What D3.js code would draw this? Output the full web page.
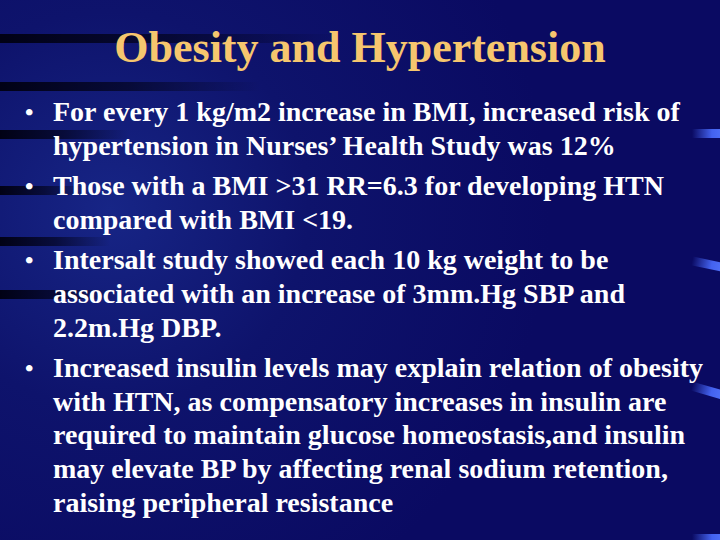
<!DOCTYPE html>
<html><head><meta charset="utf-8">
<script src="https://cdn.jsdelivr.net/npm/d3@7"></script>
<style>html,body{margin:0;padding:0;background:#0a0a62;}svg{display:block;}</style>
</head><body>
<script>
const title = "Obesity and Hypertension";
const bullets = [
  ["For every 1 kg/m2 increase in BMI, increased risk of",
   "hypertension in Nurses\u2019 Health Study was 12%"],
  ["Those with a BMI >31 RR=6.3 for developing HTN",
   "compared with BMI <19."],
  ["Intersalt study showed each 10 kg weight to be",
   "associated with an increase of 3mm.Hg SBP and",
   "2.2m.Hg DBP."],
  ["Increased insulin levels may explain relation of obesity",
   "with HTN, as compensatory increases in insulin are",
   "required to maintain glucose homeostasis,and insulin",
   "may elevate BP by affecting renal sodium retention,",
   "raising peripheral resistance"]
];
const darkStreaks = [38, 86, 134, 190, 241, 294];
const darkStreakLen = [340, 260, 130, 90, 110, 120];
const lightStreaks = [133, 262, 388, 538];
const lightStreakTilt = [0, 12, 16, 0];

const W = 720, H = 540;
const svg = d3.select("body").append("svg").attr("width", W).attr("height", H);
const defs = svg.append("defs");

const rg = defs.append("radialGradient").attr("id", "bg")
  .attr("gradientUnits", "userSpaceOnUse").attr("cx", 110).attr("cy", 210).attr("r", 440);
rg.append("stop").attr("offset", "0").attr("stop-color", "#172586");
rg.append("stop").attr("offset", "0.45").attr("stop-color", "#0e136c");
rg.append("stop").attr("offset", "1").attr("stop-color", "#0a0a62");
svg.append("rect").attr("width", W).attr("height", H).attr("fill", "url(#bg)");

const dg = defs.append("linearGradient").attr("id", "dark").attr("x1", 0).attr("x2", 1);
dg.append("stop").attr("offset", "0").attr("stop-color", "#000010").attr("stop-opacity", 0.95);
dg.append("stop").attr("offset", "0.5").attr("stop-color", "#000010").attr("stop-opacity", 0.6);
dg.append("stop").attr("offset", "1").attr("stop-color", "#000010").attr("stop-opacity", 0);

svg.append("g").selectAll("rect").data(darkStreaks).join("rect")
  .attr("x", 0).attr("y", d => d - 4).attr("height", 9)
  .attr("width", (d, i) => darkStreakLen[i])
  .attr("fill", "url(#dark)");

const lg = defs.append("linearGradient").attr("id", "light").attr("x1", 0).attr("x2", 1);
lg.append("stop").attr("offset", "0").attr("stop-color", "#4a6cff").attr("stop-opacity", 0);
lg.append("stop").attr("offset", "0.5").attr("stop-color", "#4a6cff").attr("stop-opacity", 0.9);
lg.append("stop").attr("offset", "1").attr("stop-color", "#5a7cff").attr("stop-opacity", 1);

svg.append("g").selectAll("rect").data(lightStreaks).join("rect")
  .attr("x", 692).attr("y", d => d - 4).attr("width", 40).attr("height", 9)
  .attr("fill", "url(#light)")
  .attr("transform", (d, i) => `rotate(${lightStreakTilt[i]},700,${d})`);

svg.append("text").text(title)
  .attr("x", 360).attr("y", 62).attr("text-anchor", "middle")
  .attr("font-family", "'Liberation Serif', 'Times New Roman', serif")
  .attr("font-weight", "bold").attr("font-size", 44).attr("fill", "#f6c66e");

let y = 121;
const lineH = 33.6, gap = 40.6;
const g = svg.append("g").attr("font-family", "'Liberation Serif', 'Times New Roman', serif")
  .attr("font-weight", "bold").attr("font-size", 28).attr("fill", "#ffffff");
bullets.forEach((lines, bi) => {
  g.append("text").attr("x", 25).attr("y", y - 1).attr("font-size", 24).text("\u2022");
  lines.forEach((ln, li) => {
    g.append("text").attr("x", 53).attr("y", y).text(ln);
    y += (li < lines.length - 1) ? lineH : gap;
  });
});
</script>
</body></html>
